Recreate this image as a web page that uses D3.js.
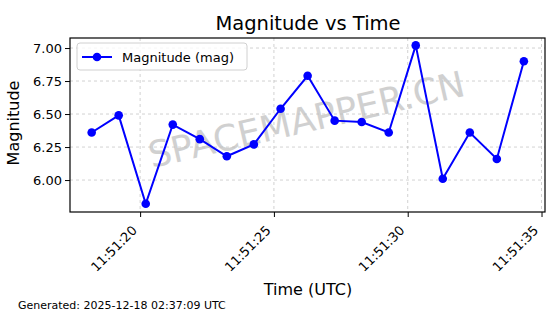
<!DOCTYPE html>
<html>
<head>
<meta charset="utf-8">
<script src="https://cdn.jsdelivr.net/npm/d3@7"></script>
<style>
body { margin: 0; background: #fff; }
svg { font-family: "DejaVu Sans", sans-serif; }
</style>
</head>
<body>
<script>
// data
var times = ["11:51:18.19", "11:51:19.20", "11:51:20.21", "11:51:21.22", "11:51:22.23",
             "11:51:23.24", "11:51:24.25", "11:51:25.25", "11:51:26.26", "11:51:27.27",
             "11:51:28.28", "11:51:29.29", "11:51:30.30", "11:51:31.31", "11:51:32.32",
             "11:51:33.33", "11:51:34.34"];
var mags = [6.36, 6.49, 5.82, 6.42, 6.31, 6.18, 6.27, 6.54, 6.79, 6.45, 6.44, 6.36, 7.02, 6.01, 6.36, 6.16, 6.90];
var yTicks = [6.00, 6.25, 6.50, 6.75, 7.00];
var xTicks = ["11:51:20", "11:51:25", "11:51:30", "11:51:35"];

var w = 560, h = 314;
var margin = {left: 70, right: 15, top: 38, bottom: 102};

var parse = d3.utcParse("%H:%M:%S.%L");
var parseTick = d3.utcParse("%H:%M:%S");
var pts = times.map(function(t, i) { return {t: parse(t + "0"), v: mags[i]}; });

var svg = d3.select("body").append("svg")
    .attr("width", w)
    .attr("height", h);

var x = d3.scaleUtc()
    .domain([parse("11:51:17.380"), parse("11:51:35.130")])
    .range([margin.left, w - margin.right]);
var y = d3.scaleLinear()
    .domain([5.758, 7.076])
    .range([h - margin.bottom, margin.top]);

// grid
var grid = svg.append("g");
grid.selectAll(".gx").data(xTicks).enter().append("line")
    .attr("x1", function(d) { return x(parseTick(d)); })
    .attr("x2", function(d) { return x(parseTick(d)); })
    .attr("y1", margin.top).attr("y2", h - margin.bottom)
    .style("stroke", "#b0b0b0").style("stroke-width", 0.8)
    .style("stroke-dasharray", "3,3").style("opacity", 0.7);
grid.selectAll(".gy").data(yTicks).enter().append("line")
    .attr("y1", function(d) { return y(d); })
    .attr("y2", function(d) { return y(d); })
    .attr("x1", margin.left).attr("x2", w - margin.right)
    .style("stroke", "#b0b0b0").style("stroke-width", 0.8)
    .style("stroke-dasharray", "3,3").style("opacity", 0.7);

// watermark
svg.append("text")
    .text("SPACEMAPPER.CN")
    .attr("transform", "translate(307,122) rotate(-13)")
    .attr("text-anchor", "middle")
    .attr("dominant-baseline", "middle")
    .style("font-size", "36px")
    .style("fill", "#bdbdbd")
    .style("opacity", 0.7);

// line + markers
var line = d3.line()
    .x(function(d) { return x(d.t); })
    .y(function(d) { return y(d.v); });
svg.append("path")
    .datum(pts)
    .attr("d", line)
    .style("fill", "none")
    .style("stroke", "#0000ff")
    .style("stroke-width", 2);
svg.selectAll("circle.pt").data(pts).enter().append("circle")
    .attr("class", "pt")
    .attr("cx", function(d) { return x(d.t); })
    .attr("cy", function(d) { return y(d.v); })
    .attr("r", 4.3)
    .style("fill", "#0000ff");

// axes
var xAxis = svg.append("g")
    .attr("transform", "translate(0," + (h - margin.bottom) + ")")
    .call(d3.axisBottom(x)
        .tickValues(xTicks.map(function(d) { return parseTick(d); }))
        .tickFormat(d3.utcFormat("%H:%M:%S"))
        .tickSizeInner(5).tickSizeOuter(0));
xAxis.select(".domain").remove();
xAxis.selectAll("text")
    .style("font-size", "13px")
    .style("font-family", "DejaVu Sans")
    .attr("text-anchor", "end")
    .attr("x", 0).attr("y", 0).attr("dy", null)
    .attr("dominant-baseline", "central")
    .attr("transform", "translate(-6,16) rotate(-45)");

var yAxis = svg.append("g")
    .attr("transform", "translate(" + margin.left + ",0)")
    .call(d3.axisLeft(y)
        .tickValues(yTicks)
        .tickFormat(d3.format(".2f"))
        .tickSizeInner(5).tickSizeOuter(0).tickPadding(3));
yAxis.select(".domain").remove();
yAxis.selectAll("text")
    .style("font-size", "13px")
    .style("font-family", "DejaVu Sans");

svg.append("rect")
    .attr("x", margin.left).attr("y", margin.top)
    .attr("width", w - margin.left - margin.right)
    .attr("height", h - margin.top - margin.bottom)
    .style("fill", "none").style("stroke", "#000").style("stroke-width", 1.2);

// legend
var lg = svg.append("g").attr("transform", "translate(77,43)");
lg.append("rect")
    .attr("width", 170).attr("height", 27).attr("rx", 3)
    .style("fill", "#fff").style("fill-opacity", 0.8)
    .style("stroke", "#d0d0d0");
lg.append("line")
    .attr("x1", 5).attr("x2", 35).attr("y1", 14).attr("y2", 14)
    .style("stroke", "#0000ff").style("stroke-width", 2);
lg.append("circle").attr("cx", 20).attr("cy", 14).attr("r", 4.3).style("fill", "#0000ff");
lg.append("text")
    .text("Magnitude (mag)")
    .attr("x", 45).attr("y", 14)
    .attr("dominant-baseline", "central")
    .style("font-size", "13px");

// titles
svg.append("text")
    .text("Magnitude vs Time")
    .attr("x", 308).attr("y", 30)
    .attr("text-anchor", "middle")
    .style("font-size", "19.5px");
svg.append("text")
    .text("Time (UTC)")
    .attr("x", 308).attr("y", 295)
    .attr("text-anchor", "middle")
    .style("font-size", "16px");
svg.append("text")
    .text("Magnitude")
    .attr("transform", "translate(19,123) rotate(-90)")
    .attr("text-anchor", "middle")
    .style("font-size", "16px");
svg.append("text")
    .text("Generated: 2025-12-18 02:37:09 UTC")
    .attr("x", 18).attr("y", 309)
    .style("font-size", "11px");
</script>
</body>
</html>
